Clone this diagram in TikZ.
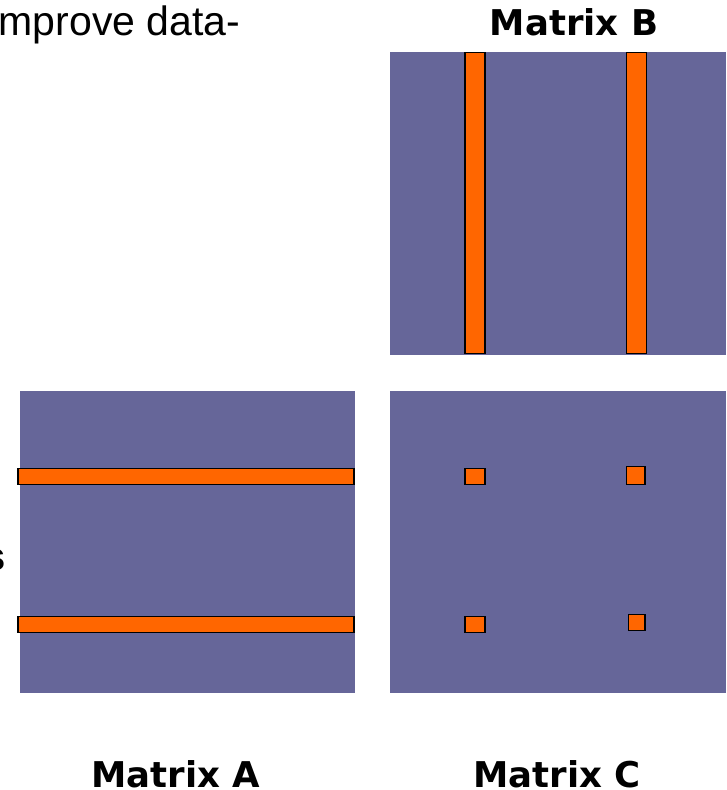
\documentclass[tikz,border=0pt]{standalone}
\usepackage{fontspec}
\setmainfont{Liberation Sans}
\newfontfamily\verdfont{DejaVu Sans}
\usepackage{xcolor}
\usetikzlibrary{positioning}

\definecolor{matblue}{RGB}{102,102,153}
\definecolor{matorange}{RGB}{255,102,0}

\begin{document}
\begin{tikzpicture}[
					x=1pt, y=-1pt,
					matbg/.style={fill=matblue, draw=none},
					strip/.style={fill=matorange, draw=black, line width=1.4pt},
					title/.style={font=\verdfont\bfseries\fontsize{35.5}{40}\selectfont,
						inner sep=0pt, text depth=0pt, anchor=base},
					body/.style={font=\fontsize{41}{46}\selectfont, inner sep=0pt}
					]
					\useasboundingbox (0,0) rectangle (726,790);
					%% ─── MATRIX BACKGROUNDS ──────────────────────────────────
					\path[matbg] (390,52) rectangle (726,354.5);
					\path[matbg] (20,391) rectangle (355,692.5);
					\path[matbg] (390,391) rectangle (726,692.5);
					
					%% ─── ROWS OF A, COLUMNS OF B, ELEMENTS OF C ──────────────
					\draw[strip] (18,468.5) rectangle (354,484.5);
					\draw[strip] (18,616.5) rectangle (354,632.5);
					\draw[strip] (465,52.5) rectangle (485,353.5);
					\draw[strip] (626.5,52.5) rectangle (646.5,353.5);
					\draw[strip] (465,468.5) rectangle (485,484.5);
					\draw[strip] (626.5,466.5) rectangle (645,484.5);
					\draw[strip] (465,616.5) rectangle (485,632.5);
					\draw[strip] (628.5,614.5) rectangle (645,630.5);
					
					%% ─── LABELS ──────────────────────────────────────────────
					\node[title] (labB) at (574,35) {Matrix B};
					\node[title] (labA) at (176,787) {Matrix A};
					\node[title] (labC) at (557,787) {Matrix C};
					\node[body, anchor=base west] (intro) at (-1.5,35) {mprove data-};
					% only the tail of this word shows at the left edge
					\node[body, anchor=base east, text depth=0pt,
						font=\bfseries\fontsize{40}{46}\selectfont] (cut) at (5.5,570) {s};
				\end{tikzpicture}
\end{document}
